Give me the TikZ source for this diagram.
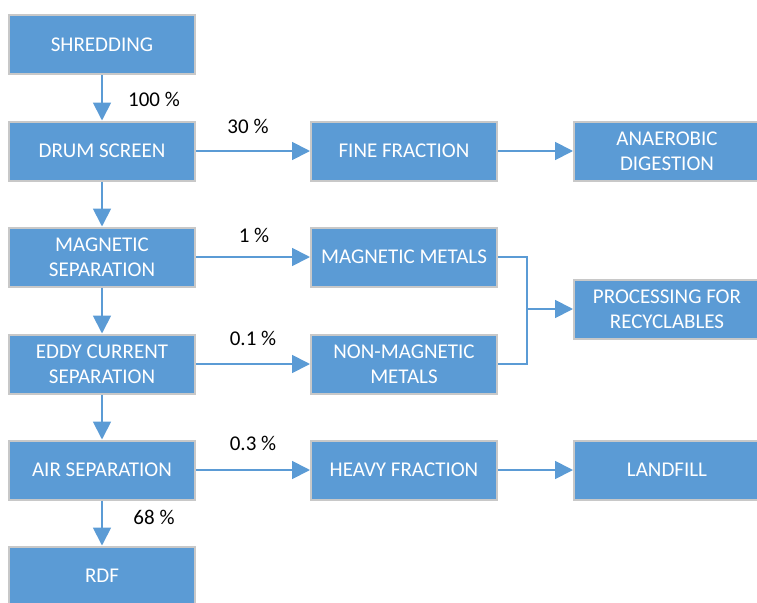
\documentclass[tikz,border=0pt]{standalone}
\usepackage{fontspec}
\setmainfont{Carlito}
\usetikzlibrary{arrows.meta}
\definecolor{boxblue}{HTML}{5B9BD5}
\definecolor{boxedge}{HTML}{C8C8C8}
\begin{document}
\begin{tikzpicture}[x=1pt,y=-1pt,
  box/.style={rectangle,fill=boxblue,draw=boxedge,line width=2pt,
    minimum width=186pt,minimum height=59pt,inner sep=0pt,
    text=white,align=center,font=\fontsize{21}{25}\selectfont},
  lbl/.style={font=\fontsize{21}{25}\selectfont,text=black,inner sep=0pt},
  flow/.style={draw=boxblue,line width=1.8pt,-{Triangle[length=18pt,width=18pt]}},
  link/.style={draw=boxblue,line width=1.8pt}]
\useasboundingbox (0,0) rectangle (757,602);
\clip (0,0) rectangle (757,602);
% column 1
\node[box] (shred) at (102,44.5) {SHREDDING};
\node[box] (drum) at (102,151) {DRUM SCREEN};
\node[box] (mag) at (102,257) {MAGNETIC\\SEPARATION};
\node[box] (eddy) at (102,364) {EDDY CURRENT\\SEPARATION};
\node[box] (air) at (102,470) {AIR SEPARATION};
\node[box] (rdf) at (102,576) {RDF};
% column 2
\node[box] (fine) at (404,151) {FINE FRACTION};
\node[box] (magmet) at (404,257) {MAGNETIC METALS};
\node[box] (nonmag) at (404,364) {NON-MAGNETIC\\METALS};
\node[box] (heavy) at (404,470) {HEAVY FRACTION};
% column 3
\node[box] (anaer) at (667,151) {ANAEROBIC\\DIGESTION};
\node[box] (proc) at (667,309) {PROCESSING FOR\\RECYCLABLES};
\node[box] (land) at (667,470) {LANDFILL};
% connectors
\draw[flow] (shred.south) -- (drum.north);
\draw[flow] (drum.south) -- (mag.north);
\draw[flow] (mag.south) -- (eddy.north);
\draw[flow] (eddy.south) -- (air.north);
\draw[flow] (air.south) -- (rdf.north);
\draw[flow] (drum.east) -- (fine.west);
\draw[flow] (fine.east) -- (anaer.west);
\draw[flow] (mag.east) -- (magmet.west);
\draw[flow] (eddy.east) -- (nonmag.west);
\draw[flow] (air.east) -- (heavy.west);
\draw[flow] (heavy.east) -- (land.west);
\coordinate (join) at (527,309);
\draw[link] (magmet.east) -| (join);
\draw[link] (nonmag.east) -| (join);
\draw[flow] (join) -- (proc.west);
% labels
\node[lbl] (l100) at (154,99) {100 \%};
\node[lbl] (l30) at (248,126) {30 \%};
\node[lbl] (l1) at (254,235) {1 \%};
\node[lbl] (l01) at (253,338) {0.1 \%};
\node[lbl] (l03) at (253,443) {0.3 \%};
\node[lbl] (l68) at (154,517) {68 \%};
\end{tikzpicture}
\end{document}
